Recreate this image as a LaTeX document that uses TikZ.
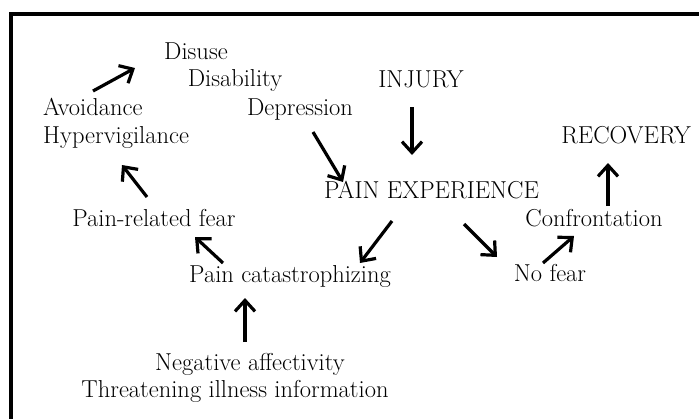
\documentclass[tikz,border=0pt]{standalone}
\usetikzlibrary{arrows.meta}
\begin{document}
\begin{tikzpicture}[x=1pt,y=-1pt,
  lbl/.style={inner sep=0pt, anchor=base, font=\fontsize{24.5}{29}\selectfont},
  lblw/.style={lbl, anchor=base west},
  arr/.style={line width=3.2pt, -{Straight Barb[length=11pt,width=20pt]}}]
\useasboundingbox (0,0) rectangle (699,418);
% frame (open to the right and bottom)
\draw[line width=4.6pt, line join=miter] (10.8,440) |- (720,13.8);

% labels
\node[lbl]  (disuse)   at (196,59)   {Disuse};
\node[lbl]  (disab)    at (235,86)   {Disability};
\node[lbl]  (depr)     at (300,115)  {Depression};
\node[lblw] (avoid)    at (43,115)   {Avoidance};
\node[lblw] (hyper)    at (43,143)   {Hypervigilance};
\node[lbl]  (injury)   at (421,87)   {INJURY};
\node[lbl]  (recovery) at (626,143)  {RECOVERY};
\node[lbl]  (painexp)  at (431.5,198){PAIN EXPERIENCE};
\node[lbl]  (fear)     at (154,226)  {Pain-related fear};
\node[lbl]  (catas)    at (290,282)  {Pain catastrophizing};
\node[lbl]  (confr)    at (594,226)  {Confrontation};
\node[lbl]  (nofear)   at (550,281)  {No fear};
\node[lbl]  (neg)      at (250,370)  {Negative affectivity};
\node[lbl]  (threat)   at (235,397)  {Threatening illness information};

% connectors
\draw[arr] ([shift={(50,-24)}]avoid.base west) -- ([shift={(-61,9)}]disuse.base);
\draw[arr] ([shift={(-7,-29)}]fear.base) -- ([shift={(79,22)}]hyper.base west);
\draw[arr] ([shift={(-67,-19)}]catas.base) -- ([shift={(41,11)}]fear.base);
\draw[arr] ([shift={(-5,-28)}]neg.base) -- ([shift={(-45,16)}]catas.base);
\draw[arr] ([shift={(13,17)}]depr.base) -- ([shift={(-88.5,-16)}]painexp.base);
\draw[arr] ([shift={(-9,20)}]injury.base) -- ([shift={(-19.5,-43)}]painexp.base);
\draw[arr] ([shift={(-39.5,23)}]painexp.base) -- ([shift={(70,-19)}]catas.base);
\draw[arr] ([shift={(32.5,26)}]painexp.base) -- ([shift={(-53,-24)}]nofear.base);
\draw[arr] ([shift={(-7,-18)}]nofear.base) -- ([shift={(-20,10)}]confr.base);
\draw[arr] ([shift={(14,-20)}]confr.base) -- ([shift={(-18,20)}]recovery.base);
\end{tikzpicture}
\end{document}
